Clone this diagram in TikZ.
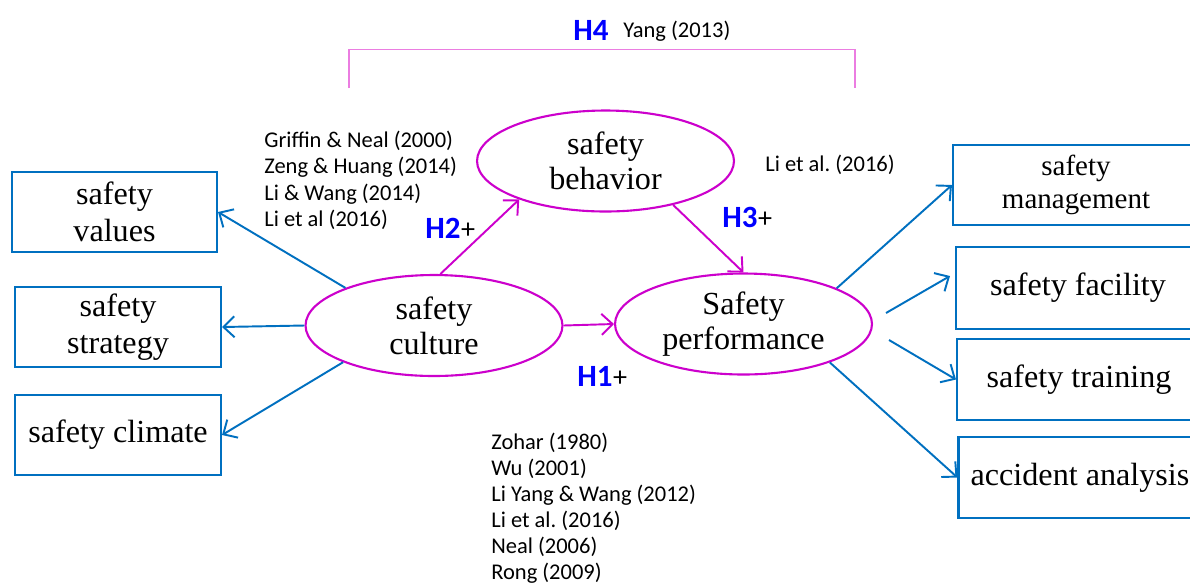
\documentclass[tikz,border=0pt]{standalone}
\usepackage{fontspec}
\setmainfont{Liberation Serif}
\newfontfamily\reffont{Carlito}
\usetikzlibrary{shapes.geometric,arrows.meta,calc}
\definecolor{lblue}{RGB}{0,112,192}
\definecolor{lmag}{RGB}{204,0,204}
\definecolor{lpink}{RGB}{235,125,225}
\definecolor{hblue}{RGB}{0,0,255}
\tikzset{
  box/.style={draw=lblue, line width=1.2pt, rectangle, inner sep=0pt, align=center,
    font=\fontsize{18.3}{21}\selectfont},
  oval/.style={draw=lmag, line width=1.2pt, ellipse, inner sep=0pt, minimum width=5.14cm,
    minimum height=2.02cm, align=center, font=\fontsize{18.3}{20}\selectfont},
  barrow/.style={draw=lblue, line width=1.1pt, -{Straight Barb[length=2.2mm,width=4.2mm]}},
  marrow/.style={draw=lmag, line width=1.1pt, -{Straight Barb[length=2.2mm,width=4.2mm]}},
  reftext/.style={anchor=base west, inner sep=0pt, font=\reffont\frenchspacing\fontsize{12.8}{15}\selectfont},
  hyp/.style={anchor=base west, inner sep=0pt, text=hblue, font=\reffont\bfseries\fontsize{17.6}{20}\selectfont},
  plus/.style={anchor=base west, inner sep=0pt, font=\reffont\fontsize{16}{18}\selectfont}
}
\begin{document}
\begin{tikzpicture}[x=0.02cm,y=-0.02cm]
\clip (0,0) rectangle (1190,583);
\fill[white] (0,0) rectangle (1190,583);

% ellipses
\node[oval] (beh) at (605.5,161) {safety\\behavior};
\node[oval] (cul) at (434,325.5) {safety\\culture};
\node[oval] (perf) at (743.5,324) {Safety\\performance};

% left boxes
\node[box, minimum width=4.1cm, minimum height=1.6cm] (val) at (114.5,212) {safety\\values};
\node[box, minimum width=4.12cm, minimum height=1.6cm] (str) at (118,327) {safety\\strategy};
\node[box, minimum width=4.12cm, minimum height=1.6cm] (cli) at (118,435) {safety climate};

% right boxes
\node[box, minimum width=4.92cm, minimum height=1.6cm, font=\fontsize{16.5}{19}\selectfont] (man) at (1076,185) {safety\\management};
\node[box, minimum width=4.88cm, minimum height=1.64cm] (fac) at (1078,288) {safety facility};
\node[box, minimum width=4.88cm, minimum height=1.62cm] (tra) at (1079,379.5) {safety training};
\node[box, minimum width=4.86cm, minimum height=1.62cm] (acc) at (1080,477.5) {accident analysis};

% blue connectors
\draw[barrow] (cul.157) -- (val.east);
\draw[barrow] (cul.west) -- (str.east);
\draw[barrow] (cul.202) -- (cli.east);
\draw[barrow] (perf.21) -- (man.west);
\coordinate (f1) at (886,313);
\coordinate (f2) at (950,276);
\draw[barrow] (f1) -- (f2);
\coordinate (t1) at (889,340);
\draw[barrow] (t1) -- (tra.west);
\draw[barrow] (perf.336) -- (acc.west);

% magenta connectors
\draw[marrow] (cul.83) -- (beh.204);
\draw[marrow] (beh.327) -- (perf.north);
\draw[marrow] (cul.east) -- (perf.west);

% H4 bracket
\coordinate (bl) at (349,88);
\coordinate (br) at (855,88);
\draw[lpink, line width=0.8pt] (bl) -- (349,49.5) -- (855,49.5) -- (br);

% hypothesis labels
\node[hyp] (h4) at (573,40) {H4};
\node[reftext] (yang) at (623,37) {Yang (2013)};
\node[hyp] (h2) at (425,238) {H2};
\node[plus] (h2p) at (h2.base east) {+};
\node[hyp] (h3) at (722,227) {H3};
\node[plus] (h3p) at (h3.base east) {+};
\node[hyp] (h1) at (577,386) {H1};
\node[plus] (h1p) at (h1.base east) {+};

% references
\node[reftext] (ra1) at (264,147) {Griffin \& Neal (2000)};
\node[reftext] (ra2) at (264,173.5) {Zeng \& Huang (2014)};
\node[reftext] (ra3) at (264,200) {Li \& Wang (2014)};
\node[reftext] (ra4) at (264,226.5) {Li et al (2016)};
\node[reftext] (rb1) at (765,171) {Li et al. (2016)};
\node[reftext] (rc1) at (491,449) {Zohar (1980)};
\node[reftext] (rc2) at (491,475) {Wu (2001)};
\node[reftext] (rc3) at (491,501.5) {Li Yang \& Wang (2012)};
\node[reftext] (rc4) at (491,527.5) {Li et al. (2016)};
\node[reftext] (rc5) at (491,553.5) {Neal (2006)};
\node[reftext] (rc6) at (491,579.5) {Rong (2009)};
\end{tikzpicture}
\end{document}
